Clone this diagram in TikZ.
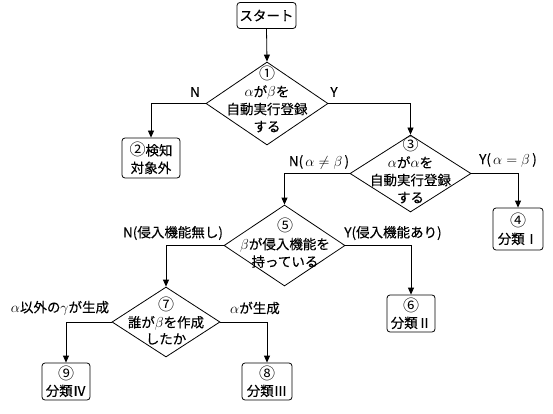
\documentclass[tikz,border=0pt]{standalone}
\usepackage{fontspec}
\setmainfont{Noto Sans CJK JP}[FakeBold=0.2]
\newfontfamily\cnumfont{Noto Sans CJK JP}
\newcommand{\cnum}[1]{{\cnumfont\fontsize{16}{17.5}\selectfont #1}}
\usetikzlibrary{shapes.geometric,arrows.meta}
\begin{document}
\begin{tikzpicture}[x=1pt,y=-1pt,
  box/.style={draw, rounded corners=3pt, inner sep=0pt, align=center, line width=0.8pt,
    font=\fontsize{13.5}{17.5}\selectfont},
  dia/.style={draw, diamond, inner sep=0pt, line width=0.8pt},
  txt/.style={align=center, inner sep=0pt, font=\fontsize{13.5}{17.5}\selectfont},
  lab/.style={inner sep=0pt, font=\fontsize{13.5}{17.5}\selectfont},
  arr/.style={-{Triangle[length=7pt,width=6pt]}, line width=0.8pt}]
\useasboundingbox (0,0) rectangle (553,414);

\node[box, minimum width=59pt, minimum height=26pt] (start) at (266.5,15.5) {スタート};

\node[dia, minimum width=122pt, minimum height=83pt] (d1) at (267,103.5) {};
\node[txt] (d1t) at (267,99) {\cnum{①}\\$\alpha$が$\beta$を\\自動実行登録\\する};

\node[box, minimum width=58pt, minimum height=40pt] (b2) at (151,158) {\cnum{②}検知\\対象外};

\node[dia, minimum width=121pt, minimum height=77pt] (d3) at (410.5,173.5) {};
\node[txt] (d3t) at (410.5,170) {\cnum{③}\\$\alpha$が$\alpha$を\\自動実行登録\\する};

\node[box, minimum width=50pt, minimum height=42pt] (b4) at (518,229) {\cnum{④}\\分類Ⅰ};

\node[dia, minimum width=121pt, minimum height=81pt] (d5) at (284.5,245.5) {};
\node[txt] (d5t) at (285,243) {\cnum{⑤}\\$\beta$が侵入機能を\\持っている};

\node[box, minimum width=48pt, minimum height=37pt] (b6) at (411,313.5) {\cnum{⑥}\\[-1pt]分類Ⅱ};

\node[dia, minimum width=108pt, minimum height=70pt] (d7) at (166,322) {};
\node[txt, font=\fontsize{13.5}{16.5}\selectfont] (d7t) at (166,321) {\cnum{⑦}\\誰が$\beta$を作成\\したか};

\node[box, minimum width=48pt, minimum height=37pt] (b9) at (66,381.5) {\cnum{⑨}\\[-1pt]分類Ⅳ};
\node[box, minimum width=50pt, minimum height=37pt] (b8) at (267,381.5) {\cnum{⑧}\\[-1pt]分類Ⅲ};

\draw[arr] (start.south) -- (d1.north);
\draw[arr] (d1.west) -| (b2.north);
\draw[arr] (d1.east) -| (d3.north);
\draw[arr] (d3.east) -| (b4.north);
\draw[arr] (d3.west) -| (d5.north);
\draw[arr] (d5.east) -| (b6.north);
\draw[arr] (d5.west) -| (d7.north);
\draw[arr] (d7.west) -| (b9.north);
\draw[arr] (d7.east) -| (b8.north);

\node[lab] (l1n) at (195,92) {N};
\node[lab] (l1y) at (334,92) {Y};
\node[lab] (l3n) at (319,162) {N(\,$\alpha\neq\beta$\,)};
\node[lab] (l3y) at (508,160) {Y(\,$\alpha=\beta$\,)};
\node[lab] (l5n) at (173,233) {N(侵入機能無し)};
\node[lab] (l5y) at (393,233) {Y(侵入機能あり)};
\node[lab] (l7n) at (60,308) {$\alpha$以外の$\gamma$が生成};
\node[lab] (l7y) at (255,308) {$\alpha$が生成};
\end{tikzpicture}
\end{document}
